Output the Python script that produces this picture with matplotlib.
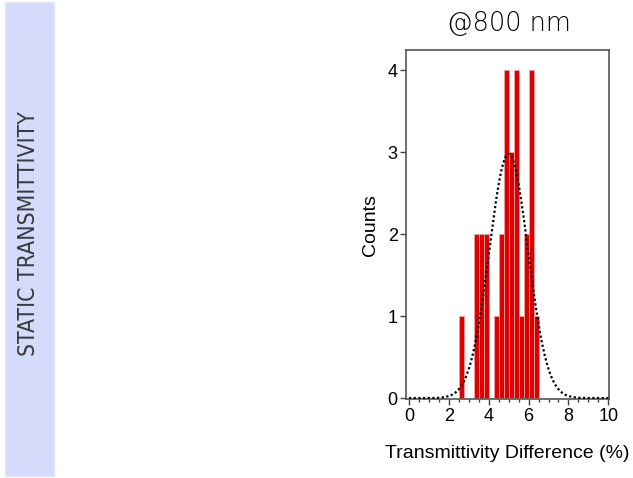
import numpy as np
import matplotlib.pyplot as plt
from matplotlib.patches import Rectangle
from matplotlib.ticker import MultipleLocator

# histogram of transmittivity difference (%), bin width 0.25
bin_left = [2.5, 3.25, 3.5, 3.75, 4.25, 4.5, 4.75, 5.0, 5.25, 5.5, 5.75, 6.0, 6.25]
counts = [1, 2, 2, 2, 1, 2, 4, 3, 4, 1, 2, 4, 1]
bin_width = 0.25

# normal fit
fit_mean = 5.0
fit_sigma = 0.97

title = "@800 nm"
side_label = "STATIC TRANSMITTIVITY"
x_label = "Transmittivity Difference (%)"
y_label = "Counts"

plt.rcParams['font.family'] = ['Liberation Sans', 'DejaVu Sans']

fig = plt.figure(figsize=(6.33, 4.78), dpi=100)

# lavender side band with vertical label
fig.patches.append(Rectangle((5 / 633, 2 / 478), 49 / 633, 474 / 478,
                             transform=fig.transFigure, facecolor='#d5dcfb',
                             edgecolor='#e4e8fb', linewidth=1))
fig.text(29 / 633, 1 - 234 / 478, side_label, rotation=90, ha='center', va='center',
         fontsize=16.5, color='#3a3a3a', family=['DejaVu Sans'], fontstretch='condensed')

ax = fig.add_axes([406 / 633, 1 - 399.3 / 478, 203.3 / 633, 349.3 / 478])

ax.bar(bin_left, counts, width=bin_width, align='edge', color='#dd0000',
       edgecolor='#f3a0a0', linewidth=0.6, zorder=2)

xs = np.linspace(0, 10, 400)
n_total = sum(counts)
ys = n_total * bin_width / (fit_sigma * np.sqrt(2 * np.pi)) * np.exp(-(xs - fit_mean) ** 2 / (2 * fit_sigma ** 2))
ax.plot(xs, ys, color='black', linestyle=(0, (1, 1.1)), linewidth=1.6, zorder=3)

ax.set_xlim(-0.15, 10.05)
ax.set_ylim(-0.015, 4.25)
ax.set_xticks([0, 2, 4, 6, 8, 10])
ax.set_yticks([0, 1, 2, 3, 4])
ax.xaxis.set_minor_locator(MultipleLocator(0.5))
ax.tick_params(which='major', direction='out', length=4, width=1, color='#444444',
               labelsize=13, pad=2)
ax.tick_params(which='minor', direction='out', length=2.5, width=1, color='#444444')
for s in ax.spines.values():
    s.set_color('#555555')
    s.set_linewidth(1.2)

ax.set_xlabel(x_label, fontsize=14, labelpad=15)
ax.set_ylabel(y_label, fontsize=14, labelpad=6)

fig.text(509 / 633, 1 - 24 / 478, title, ha='center', va='center', fontsize=18.5,
         color='black', family=['DejaVu Sans'], fontweight='light')

fig.savefig('out.png', dpi=100)
